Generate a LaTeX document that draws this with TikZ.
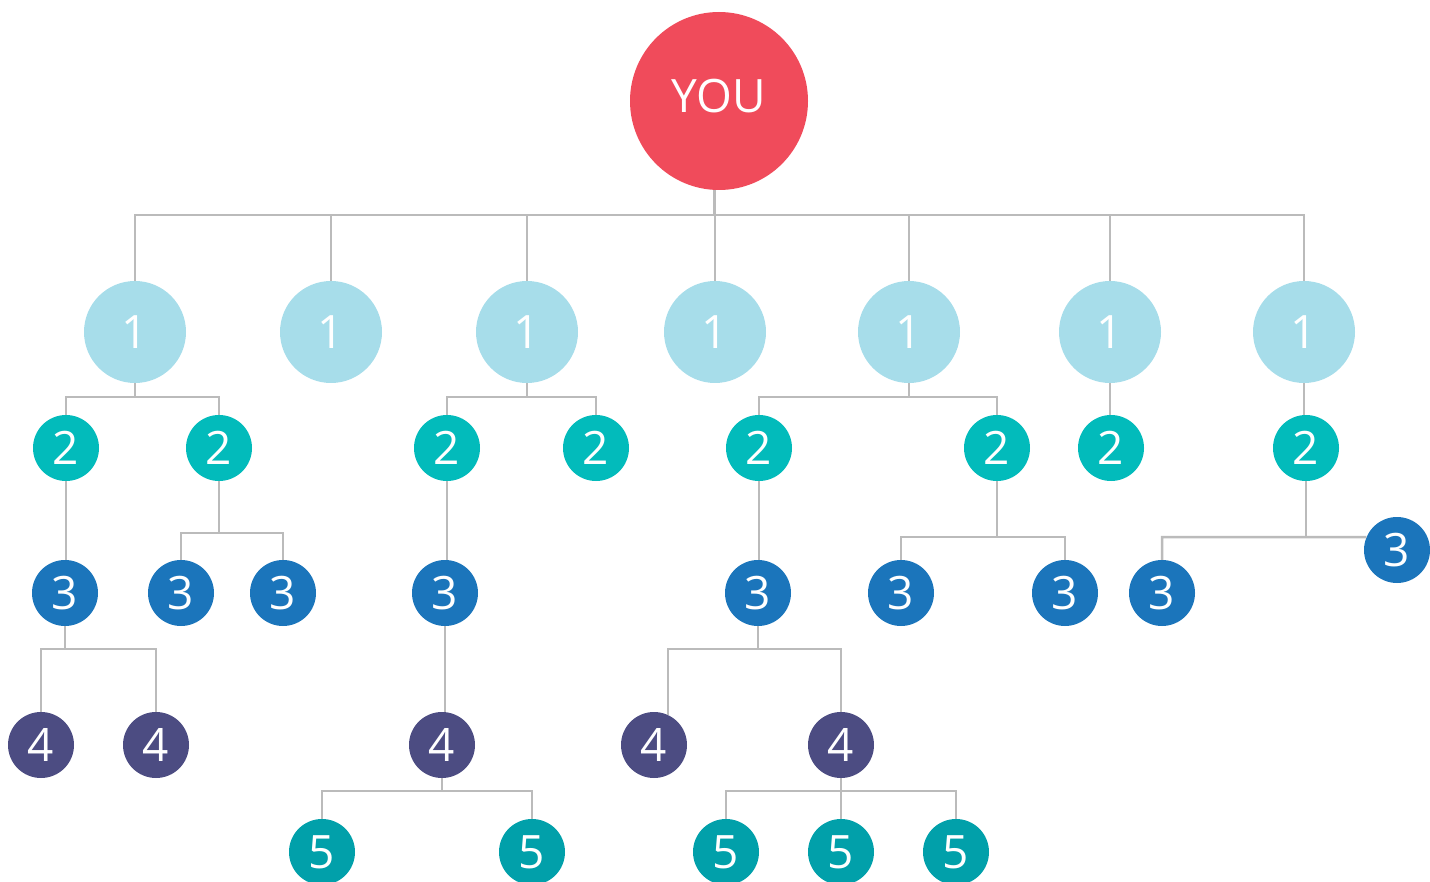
\documentclass[tikz,border=0pt]{standalone}
\usepackage{fontspec}
\setmainfont{Open Sans}
\definecolor{cyou}{HTML}{F04B5B}
\definecolor{cone}{HTML}{A7DDEA}
\definecolor{ctwo}{HTML}{02BBBB}
\definecolor{cthree}{HTML}{1B75BB}
\definecolor{cfour}{HTML}{4C4C82}
\definecolor{cfive}{HTML}{01A0AA}
\definecolor{linegray}{HTML}{BBBBBB}
\begin{document}
\begin{tikzpicture}[x=1pt,y=-1pt,
  conn/.style={draw=linegray,line width=2.5pt},
  bubble/.style={circle,inner sep=0pt,text=white,font=\fontsize{46}{46}\selectfont},
  lvone/.style={bubble,fill=cone,minimum size=102pt},
  lvtwo/.style={bubble,fill=ctwo,minimum size=66pt},
  lvthree/.style={bubble,fill=cthree,minimum size=66pt},
  lvfour/.style={bubble,fill=cfour,minimum size=66pt},
  lvfive/.style={bubble,fill=cfive,minimum size=66pt}]
\useasboundingbox (0,0) rectangle (1430,882);
% nodes
\node[bubble,fill=cyou,minimum size=178pt] (you) at (719,101) {};
\node[text=white,font=\fontsize{46}{46}\selectfont,inner sep=0pt] (youtxt) at (719,96) {YOU};
\node[lvone] (a1) at (135,332) {1};
\node[lvone] (a2) at (331,332) {1};
\node[lvone] (a3) at (527,332) {1};
\node[lvone] (a4) at (715,332) {1};
\node[lvone] (a5) at (909,332) {1};
\node[lvone] (a6) at (1110,332) {1};
\node[lvone] (a7) at (1304,332) {1};
\node[lvtwo] (b1) at (66,448) {2};
\node[lvtwo] (b2) at (219,448) {2};
\node[lvtwo] (b3) at (447,448) {2};
\node[lvtwo] (b4) at (596,448) {2};
\node[lvtwo] (b5) at (759,448) {2};
\node[lvtwo] (b6) at (997,448) {2};
\node[lvtwo] (b7) at (1111,448) {2};
\node[lvtwo] (b8) at (1306,448) {2};
\node[lvthree] (c1) at (65,593) {3};
\node[lvthree] (c2) at (181,593) {3};
\node[lvthree] (c3) at (283,593) {3};
\node[lvthree] (c4) at (445,593) {3};
\node[lvthree] (c5) at (758,593) {3};
\node[lvthree] (c6) at (901,593) {3};
\node[lvthree] (c7) at (1065,593) {3};
\node[lvthree] (c8) at (1162,593) {3};
\node[lvthree] (c9) at (1397,550) {3};
\node[lvfour] (d1) at (41,745) {4};
\node[lvfour] (d2) at (156,745) {4};
\node[lvfour] (d3) at (442,745) {4};
\node[lvfour] (d4) at (654,745) {4};
\node[lvfour] (d5) at (841,745) {4};
\node[lvfive] (e1) at (322,852) {5};
\node[lvfive] (e2) at (532,852) {5};
\node[lvfive] (e3) at (726,852) {5};
\node[lvfive] (e4) at (841,852) {5};
\node[lvfive] (e5) at (956,852) {5};
% bus levels
\coordinate (y0) at (0,215);
\coordinate (y1) at (0,397);
\coordinate (y2a) at (0,533);
\coordinate (y2b) at (0,537);
\coordinate (y3) at (0,649);
\coordinate (y4) at (0,791);
% YOU to level 1
\draw[conn] (you.267) -- (you.267 |- y0);
\foreach \n in {a1,a2,a3,a4,a5,a6,a7}{\draw[conn] (you.267 |- y0) -| (\n.north);}
% level 1 to level 2
\draw[conn] (a1.south) -- (a1.south |- y1);
\draw[conn] (b1.north) |- (a1.south |- y1) -| (b2.north);
\draw[conn] (a3.south) -- (a3.south |- y1);
\draw[conn] (b3.north) |- (a3.south |- y1) -| (b4.north);
\draw[conn] (a5.south) -- (a5.south |- y1);
\draw[conn] (b5.north) |- (a5.south |- y1) -| (b6.north);
\draw[conn] (a6.south) -- (b7.north -| a6.south);
\draw[conn] (a7.south) -- (b8.north -| a7.south);
% level 2 to level 3
\draw[conn] (b1.south) -- (c1.north -| b1.south);
\draw[conn] (b2.south) -- (b2.south |- y2a);
\draw[conn] (c2.north) |- (b2.south |- y2a) -| (c3.north);
\draw[conn] (b3.south) -- (c4.north -| b3.south);
\draw[conn] (b5.south) -- (c5.north -| b5.south);
\draw[conn] (b6.south) -- (b6.south |- y2b);
\draw[conn] (c6.north) |- (b6.south |- y2b) -| (c7.north);
\draw[conn] (b8.south) -- (b8.south |- y2b);
\draw[conn] (c8.north) |- (b8.south |- y2b) -- (c9.157);
% level 3 to level 4
\draw[conn] (c1.south) -- (c1.south |- y3);
\draw[conn] (d1.north) |- (c1.south |- y3) -| (d2.north);
\draw[conn] (c4.south) -- (d3.north -| c4.south);
\draw[conn] (c5.south) -- (c5.south |- y3);
\draw[conn] (d4.65) |- (c5.south |- y3) -| (d5.north);
% level 4 to level 5
\draw[conn] (d3.south) -- (d3.south |- y4);
\draw[conn] (e1.north) |- (d3.south |- y4) -| (e2.north);
\draw[conn] (d5.south) -- (e4.north);
\draw[conn] (e3.north) |- (d5.south |- y4) -| (e5.north);
\end{tikzpicture}
\end{document}
